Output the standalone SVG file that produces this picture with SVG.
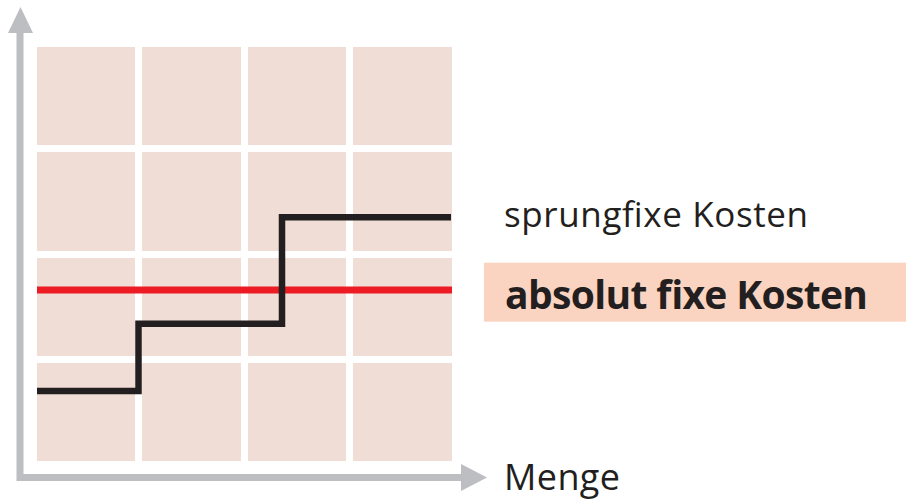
<svg xmlns="http://www.w3.org/2000/svg" width="906" height="499" viewBox="0 0 906 499">
<style>
.axis{fill:none;stroke:#bdbec2;stroke-width:7;stroke-linejoin:miter}
.head{fill:#bdbec2}
.gap{stroke:#ffffff;stroke-width:7}
.reg{font-family:"Open Sans","Noto Sans","DejaVu Sans",sans-serif;fill:#231f20}
.bold{font-family:"Open Sans","Noto Sans","DejaVu Sans",sans-serif;font-weight:bold;fill:#231f20}
</style>
<rect width="906" height="499" fill="#ffffff"/>
<g id="grid">
<rect x="37" y="47" width="415" height="414" fill="#f0ddd5"/>
<line class="gap" x1="138.5" y1="47" x2="138.5" y2="461"/>
<line class="gap" x1="244.5" y1="47" x2="244.5" y2="461"/>
<line class="gap" x1="349.5" y1="47" x2="349.5" y2="461"/>
<line class="gap" x1="37" y1="148.5" x2="452" y2="148.5"/>
<line class="gap" x1="37" y1="254.5" x2="452" y2="254.5"/>
<line class="gap" x1="37" y1="359.5" x2="452" y2="359.5"/>
</g>
<g id="axes">
<path class="axis" d="M20,33 V477.5 H461"/>
<polygon class="head" points="8,33 20.5,7 33,33"/>
<polygon class="head" points="461,464 487,477.5 461,491"/>
</g>
<g id="absolut-fixe-line">
<path d="M37,290 H452" fill="none" stroke="#ed1c24" stroke-width="7"/>
</g>
<g id="sprungfixe-line">
<path d="M37,391 H138.5 V323.7 H282 V217.3 H451" fill="none" stroke="#231f20" stroke-width="6.5" stroke-linejoin="miter"/>
</g>
<g id="label-sprungfixe">
<text class="reg" x="504" y="226.5" font-size="35" textLength="304">sprungfixe Kosten</text>
</g>
<g id="label-absolut">
<rect x="484" y="262.7" width="422" height="59" fill="#fbd3c1"/>
<text class="bold" x="505" y="309.3" font-size="39" textLength="363">absolut fixe Kosten</text>
</g>
<g id="label-menge">
<text class="reg" x="504" y="489.5" font-size="36" textLength="116">Menge</text>
</g>
</svg>
